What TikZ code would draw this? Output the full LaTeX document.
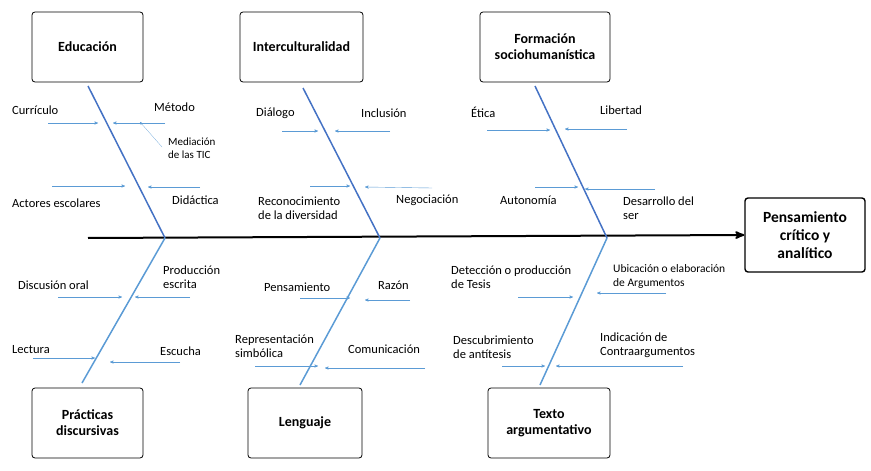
\documentclass[tikz,border=0pt]{standalone}
\usepackage{fontspec}
\setmainfont{Carlito}
\usetikzlibrary{arrows}
\definecolor{bone}{HTML}{4472C4}
\definecolor{twigc}{HTML}{5B9BD5}
\begin{document}
\begin{tikzpicture}[x=1pt,y=-1pt,>=stealth',
                    box/.style={draw=black,line width=0.8pt,rounded corners=3pt,fill=white,font=\bfseries\fontsize{14}{16}\selectfont,align=center,inner sep=0pt},
                    lbl/.style={font=\fontsize{12.5}{14.5}\selectfont,align=left,inner sep=0pt},
                    twig/.style={->,draw=twigc,thin},
                    bonel/.style={draw=bone,line width=1.5pt}]
  \useasboundingbox (0,0) rectangle (871,471);

  % cause boxes
  \node[box,minimum width=111pt,minimum height=70pt] (edu) at (87.5,47) {Educación};
  \node[box,minimum width=123pt,minimum height=70pt] (inter) at (301.5,47) {Interculturalidad};
  \node[box,minimum width=130pt,minimum height=70pt] (form) at (545,47) {Formación\\sociohumanística};
  \node[box,minimum width=111pt,minimum height=70pt] (prac) at (87.5,423) {Prácticas\\discursivas};
  \node[box,minimum width=114pt,minimum height=70pt] (leng) at (305,423) {Lenguaje};
  \node[box,minimum width=122pt,minimum height=70pt] (texto) at (549,423) {Texto\\argumentativo};
  \node[box,line width=1.4pt,minimum width=120pt,minimum height=74pt,font=\bfseries\fontsize{15.5}{18}\selectfont] (pens) at (805,235) {Pensamiento\\crítico y\\analítico};

  % spine
  \coordinate (tail) at (88,238);
  \draw[->,line width=2pt] (tail) -- (pens.west);

  % bones
  \coordinate (j1) at (165,238);
  \coordinate (j2) at (380,238);
  \coordinate (j3) at (607,238);
  \coordinate (e1) at (88,86);   \coordinate (e2) at (303,88);  \coordinate (e3) at (535,86);
  \coordinate (p1) at (82,383);  \coordinate (p2) at (300,385); \coordinate (p3) at (540,385);
  \draw[bonel] (e1) -- (j1);
  \draw[bonel] (e2) -- (j2);
  \draw[bonel] (e3) -- (j3);
  \draw[bonel,draw=twigc] (p1) -- (j1);
  \draw[bonel,draw=twigc] (p2) -- (j2);
  \draw[bonel,draw=twigc] (p3) -- (j3);

  % small arrows
  \foreach \n/\xa/\ya/\xb/\yb in {a/48/123/98/123, b/165/123/113/123, c/52/186/125/186,
                        d/200/187/148/187, f/282/131/318/131, g/390/131/335/131,
                        h/310/186/350/186, i/432/188/365/187, k/487/130/550/130,
                        l/627/129/565/129, m/535/187/578/187, o/655/189/585/189,
                        q/58/297/122/297, r/190/297/135/297, s/33/358/95/358,
                        t/180/362/110/362, u/300/298/350/298, v/410/300/365/300,
                        w/255/366/318/366, x/425/368/325/368, y/518/297/573/297,
                        z/666/293/597/293, aa/502/366/545/366, ab/683/366/556/366}
  {
    \coordinate (\n-s) at (\xa,\ya);
    \coordinate (\n-e) at (\xb,\yb);
    \draw[twig] (\n-s) -- (\n-e);
  }
  \coordinate (tics) at (162,147);
  \coordinate (tice) at (140,122);
  \draw[twig,very thin] (tics) -- (tice);

  % labels
  \node[lbl,anchor=west] (curr) at (12,110) {Currículo};
  \node[lbl,anchor=west] (meto) at (154,107) {Método};
  \node[lbl,anchor=west,font=\fontsize{11}{13}\selectfont] (tic) at (168,148) {Mediación\\de las TIC};
  \node[lbl,anchor=west] (acto) at (12,203) {Actores escolares};
  \node[lbl,anchor=west] (dida) at (172,200) {Didáctica};
  \node[lbl,anchor=west] (dial) at (256,113) {Diálogo};
  \node[lbl,anchor=west] (incl) at (361,113) {Inclusión};
  \node[lbl,anchor=west] (reco) at (258,208) {Reconocimiento\\de la diversidad};
  \node[lbl,anchor=west] (nego) at (396,200) {Negociación};
  \node[lbl,anchor=west] (etic) at (471,112) {Ética};
  \node[lbl,anchor=west] (libe) at (600,110) {Libertad};
  \node[lbl,anchor=west] (auto) at (500,200) {Autonomía};
  \node[lbl,anchor=west] (desa) at (623,208) {Desarrollo del\\ser};
  \node[lbl,anchor=west] (disc) at (18,285) {Discusión oral};
  \node[lbl,anchor=west] (prod) at (163,277) {Producción\\escrita};
  \node[lbl,anchor=west] (lect) at (12,350) {Lectura};
  \node[lbl,anchor=west] (escu) at (160,351) {Escucha};
  \node[lbl,anchor=west] (pena) at (264,287) {Pensamiento};
  \node[lbl,anchor=west] (razo) at (378,285) {Razón};
  \node[lbl,anchor=west] (repr) at (235,346) {Representación\\simbólica};
  \node[lbl,anchor=west] (comu) at (348,349) {Comunicación};
  \node[lbl,anchor=west] (dete) at (451,277) {Detección o producción\\de Tesis};
  \node[lbl,anchor=west,font=\fontsize{11.5}{14}\selectfont] (ubic) at (613,276) {Ubicación o elaboración\\de Argumentos};
  \node[lbl,anchor=west] (desc) at (453,347) {Descubrimiento\\de antítesis};
  \node[lbl,anchor=west] (indi) at (600,345) {Indicación de\\Contraargumentos};
\end{tikzpicture}
\end{document}
